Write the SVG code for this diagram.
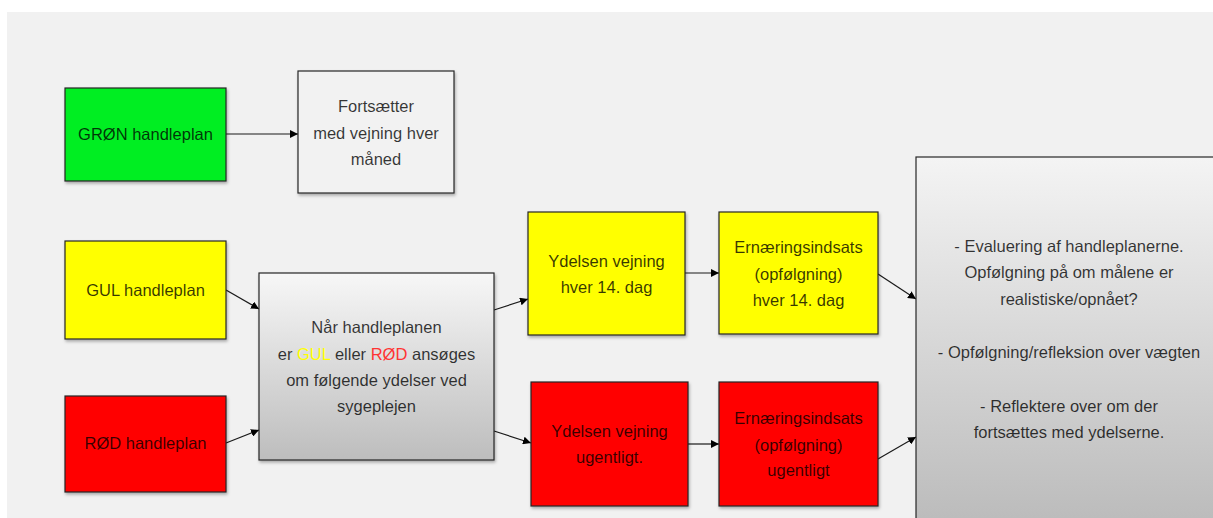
<svg xmlns="http://www.w3.org/2000/svg" width="1213" height="518" viewBox="0 0 1213 518">
<style>
.box{stroke:#262626;stroke-width:1.2}
.t{font-family:"Liberation Sans",Arial,sans-serif;font-size:16.5px;text-anchor:middle;fill:#000;fill-opacity:0.78}
.c{stroke:#1a1a1a;stroke-width:1.2;fill:none;marker-end:url(#ah)}
</style>
<defs>
<marker id="ah" viewBox="0 0 10 10" refX="10" refY="5" markerWidth="8" markerHeight="8" markerUnits="userSpaceOnUse" orient="auto">
<path d="M0,0 L10,5 L0,10 z" fill="#000"/>
</marker>
<linearGradient id="g1" x1="0" y1="0" x2="0" y2="1">
<stop offset="0" stop-color="#f7f7f7"/>
<stop offset="1" stop-color="#bdbdbd"/>
</linearGradient>
<linearGradient id="g2" x1="0" y1="157" x2="0" y2="518" gradientUnits="userSpaceOnUse">
<stop offset="0" stop-color="#f4f4f4"/>
<stop offset="1" stop-color="#bcbcbc"/>
</linearGradient>
<filter id="sh" x="-10%" y="-10%" width="125%" height="125%">
<feDropShadow dx="1" dy="2" stdDeviation="1.5" flood-color="#000" flood-opacity="0.3"/>
</filter>
</defs>
<rect x="0" y="0" width="1213" height="518" fill="#ffffff"/>
<rect x="7" y="12" width="1206" height="506" fill="#f1f1f1"/>
<g id="connectors">
<line class="c" x1="226" y1="134" x2="298" y2="134"/>
<line class="c" x1="226" y1="290" x2="259" y2="309"/>
<line class="c" x1="226" y1="443" x2="259" y2="430"/>
<line class="c" x1="494" y1="310" x2="528" y2="299"/>
<line class="c" x1="494" y1="431" x2="531" y2="443"/>
<line class="c" x1="685" y1="273" x2="719" y2="273"/>
<line class="c" x1="688" y1="444" x2="719" y2="444"/>
<line class="c" x1="878" y1="274" x2="916" y2="299"/>
<line class="c" x1="878" y1="459" x2="916" y2="437"/>
</g>
<g id="gron">
<rect class="box" x="65" y="88" width="161" height="93" fill="#00ee22" filter="url(#sh)"/>
<text class="t" x="145.5" y="140">GRØN handleplan</text>
</g>
<g id="fortsaetter">
<rect class="box" x="298" y="71" width="156" height="122" fill="#f2f2f2" filter="url(#sh)"/>
<text class="t" x="376" y="112">Fortsætter</text>
<text class="t" x="376" y="139">med vejning hver</text>
<text class="t" x="376" y="165">måned</text>
</g>
<g id="gul">
<rect class="box" x="65" y="241" width="161" height="98" fill="#ffff00" filter="url(#sh)"/>
<text class="t" x="145.5" y="296">GUL handleplan</text>
</g>
<g id="rod">
<rect class="box" x="65" y="396" width="161" height="96" fill="#ff0000" filter="url(#sh)"/>
<text class="t" x="145.5" y="449">RØD handleplan</text>
</g>
<g id="naar">
<rect class="box" x="259" y="273" width="235" height="187" fill="url(#g1)" filter="url(#sh)"/>
<text class="t" x="376.5" y="333">Når handleplanen</text>
<text class="t" x="376.5" y="360">er <tspan fill="#ffff00" fill-opacity="1">GUL</tspan> eller <tspan fill="#ff3333" fill-opacity="1">RØD</tspan> ansøges</text>
<text class="t" x="376.5" y="386">om følgende ydelser ved</text>
<text class="t" x="376.5" y="412">sygeplejen</text>
</g>
<g id="ydelsen-gul">
<rect class="box" x="528" y="212" width="157" height="123" fill="#ffff00" filter="url(#sh)"/>
<text class="t" x="606.5" y="267">Ydelsen vejning</text>
<text class="t" x="606.5" y="293">hver 14. dag</text>
</g>
<g id="ernaering-gul">
<rect class="box" x="719" y="212" width="159" height="122" fill="#ffff00" filter="url(#sh)"/>
<text class="t" x="798.5" y="253">Ernæringsindsats</text>
<text class="t" x="798.5" y="280">(opfølgning)</text>
<text class="t" x="798.5" y="306">hver 14. dag</text>
</g>
<g id="ydelsen-rod">
<rect class="box" x="531" y="382" width="157" height="124" fill="#ff0000" filter="url(#sh)"/>
<text class="t" x="609.5" y="437">Ydelsen vejning</text>
<text class="t" x="609.5" y="463">ugentligt.</text>
</g>
<g id="ernaering-rod">
<rect class="box" x="719" y="382" width="159" height="124" fill="#ff0000" filter="url(#sh)"/>
<text class="t" x="798.5" y="424">Ernæringsindsats</text>
<text class="t" x="798.5" y="451">(opfølgning)</text>
<text class="t" x="798.5" y="476">ugentligt</text>
</g>
<g id="evaluering">
<rect class="box" x="916" y="157" width="310" height="380" fill="url(#g2)"/>
<text class="t" x="1069" y="252">- Evaluering af handleplanerne.</text>
<text class="t" x="1069" y="278">Opfølgning på om målene er</text>
<text class="t" x="1069" y="305">realistiske/opnået?</text>
<text class="t" x="1069" y="358">- Opfølgning/refleksion over vægten</text>
<text class="t" x="1069" y="412">- Reflektere over om der</text>
<text class="t" x="1069" y="438">fortsættes med ydelserne.</text>
</g>
</svg>
